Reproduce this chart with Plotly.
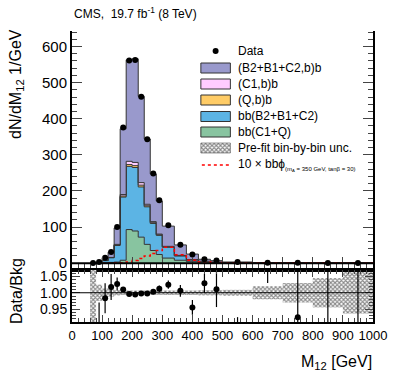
import numpy as np
import plotly.graph_objects as go

# bin edges of the M12 histogram (GeV)
edges = [60, 80, 100, 120, 140, 160, 180, 200, 220, 240, 260, 280, 300,
         340, 380, 420, 460, 500, 600, 700, 800, 900, 1000]

# background components, dN/dM12 per bin
bb_c1q   = [0, 0.3, 1, 2, 3, 8, 93, 89, 72, 52, 35, 24, 14, 8, 4, 2.5, 1.5, 0.6, 0.2, 0.1, 0.05, 0.03]
bb_b2b1c2 = [0.2, 1.2, 6, 13, 46, 175, 175, 176, 139, 104, 75, 53, 30, 12, 5, 2.5, 1.5, 0.6, 0.3, 0.2, 0.1, 0.07]
qb_b     = [0, 0, 0.2, 0.3, 1, 3, 5, 5, 5, 3, 2, 1.5, 1, 0.5, 0.3, 0.2, 0.1, 0.05, 0, 0, 0, 0]
c1b_b    = [0, 0, 0.3, 0.5, 2, 4, 9, 9, 7, 4, 3, 2, 1.5, 1, 0.5, 0.3, 0.2, 0.1, 0.05, 0, 0, 0]
b2b1c2b_b = [0.3, 1.5, 7.8, 14.7, 45.5, 182, 281, 287, 239, 181, 132, 91.5, 56, 29, 15.3, 5.2, 3.6, 1.85, 0.55, 0.56, 0.3, 0.4]

# 10 x signal
signal = [0, 0, 0, 0, 0.3, 1, 3, 7, 13, 20, 27, 35, 44, 23, 8, 3, 1.5, 0.5, 0.2, 0.1, 0.05, 0.03]

# data
data_y = [0.5, 3, 15, 31, 100, 376, 561, 563, 461, 343, 248, 174, 105, 51, 24, 11, 7, 3, 1.2, 0.8, 0.5, 0.4]

# ratio panel
ratio     = [0.5, 0.85, 0.983, 1.018, 1.027, 1.010, 0.996, 0.995, 0.998, 0.998, 1.003, 1.012,
             1.025, 1.006, 0.955, 1.029, 1.011, 0.80, 1.15, 0.925, 1.20, 0.75]
ratio_err = [0.2, 0.12, 0.046, 0.04, 0.02, 0.008, 0.004, 0.004, 0.004, 0.005, 0.006, 0.01,
             0.013, 0.018, 0.023, 0.03, 0.055, 0.125, 0.12, 0.2, 0.4, 0.4]
bkg_unc   = [0.6, 0.025, 0.013, 0.012, 0.008, 0.007, 0.007, 0.007, 0.007, 0.007, 0.007, 0.007,
             0.007, 0.007, 0.007, 0.008, 0.008, 0.009, 0.02, 0.03, 0.045, 0.064]

edges_a = np.array(edges, dtype=float)
centers = (edges_a[:-1] + edges_a[1:]) / 2
widths = np.diff(edges_a)

FONT = "Liberation Sans"
W, H = 399, 379
L, R, T, B = 72, 21, 31, 57
PW, PH = W - L - R, H - T - B
split = (H - B - 270) / PH
HATCH = dict(shape="x", size=3, solidity=0.6, fgcolor="#111111", bgcolor="white")


def px(x):
    return (x - L) / PW


def py(y):
    return (H - B - y) / PH


def step(vals):
    return list(vals) + [vals[-1]]


fig = go.Figure()

layers = [
    (bb_c1q, "#88c4a0"),
    (bb_b2b1c2, "#5cb4e4"),
    (qb_b, "#ffcc66"),
    (c1b_b, "#ffccff"),
    (b2b1c2b_b, "#9999cc"),
]
cum = np.zeros(len(centers))
for i, (vals, col) in enumerate(layers):
    cum = cum + np.array(vals)
    fig.add_trace(go.Scatter(x=edges, y=step(cum), mode="lines", line_shape="hv",
                             line=dict(color="#333333", width=1), fillcolor=col,
                             fill="tozeroy" if i == 0 else "tonexty",
                             xaxis="x", yaxis="y", hoverinfo="skip"))

fig.add_trace(go.Scatter(x=edges, y=step(signal), mode="lines", line_shape="hv",
                         line=dict(color="red", width=1.5, dash="dot"), xaxis="x", yaxis="y"))

fig.add_trace(go.Scatter(x=centers, y=data_y, mode="markers",
                         marker=dict(color="black", size=6), xaxis="x", yaxis="y"))

# ratio panel
unc = np.array(bkg_unc)
fig.add_trace(go.Bar(x=centers, y=2 * unc, base=1 - unc, width=widths,
                     marker=dict(color="rgba(0,0,0,0)", line=dict(width=0), pattern=HATCH),
                     xaxis="x2", yaxis="y2"))
fig.add_shape(type="line", xref="x2", yref="y2", x0=0, x1=1000, y0=1, y1=1,
              line=dict(color="black", width=1))
fig.add_trace(go.Scatter(x=centers, y=ratio, mode="markers",
                         marker=dict(color="black", size=6),
                         error_y=dict(type="data", array=ratio_err, color="black",
                                      thickness=1.2, width=0),
                         xaxis="x2", yaxis="y2"))

fig.add_shape(type="line", xref="x", yref="y", x0=0, x1=1000, y0=0, y1=0,
              line=dict(color="black", width=2))

# legend, drawn on an overlay in pixel coordinates
leg_names = ["(B2+B1+C2,b)b", "(C1,b)b", "(Q,b)b", "bb(B2+B1+C2)", "bb(C1+Q)"]
leg_cols = ["#9999cc", "#ffccff", "#ffcc66", "#5cb4e4", "#88c4a0"]
leg_rows = [68, 84, 100, 116.5, 132, 148, 165]
for name, col, yc in zip(leg_names, leg_cols, leg_rows):
    fig.add_trace(go.Scatter(x=[203, 233, 233, 203, 203], y=[yc - 5, yc - 5, yc + 5, yc + 5, yc - 5],
                             mode="lines", fill="toself", fillcolor=col,
                             line=dict(color="#333333", width=1), xaxis="x4", yaxis="y4"))
yc = leg_rows[5]
fig.add_trace(go.Scatter(x=[203, 233, 233, 203, 203], y=[yc - 5, yc - 5, yc + 5, yc + 5, yc - 5],
                         mode="lines", fill="toself", fillcolor="white", fillpattern=HATCH,
                         line=dict(color="#333333", width=0.5), xaxis="x4", yaxis="y4"))
fig.add_trace(go.Scatter(x=[204, 232], y=[leg_rows[6]] * 2, mode="lines",
                         line=dict(color="red", width=1.5, dash="dot"), xaxis="x4", yaxis="y4"))
fig.add_trace(go.Scatter(x=[218], y=[51], mode="markers", marker=dict(color="black", size=6),
                         xaxis="x4", yaxis="y4"))

ann = []
leg_text = ["Data"] + leg_names + [
    "Pre-fit bin-by-bin unc.",
    "10 × bbϕ<sub><span style='font-size:6px'>(m<sub>A</sub> = 350 GeV, tanβ = 30)</span></sub>"]
for txt, yc in zip(leg_text, [51] + leg_rows):
    ann.append(dict(x=px(239), y=py(yc), xref="paper", yref="paper", text=txt,
                    xanchor="left", yanchor="middle", showarrow=False, font=dict(size=12)))

ann += [
    dict(x=px(72), y=py(13), text="CMS,&nbsp; 19.7 fb<sup>-1</sup> (8 TeV)",
         xanchor="left", yanchor="middle", font=dict(size=12)),
    dict(x=px(15), y=py(84), text="dN/dM<sub>12</sub> 1/GeV", textangle=-90,
         xanchor="center", yanchor="middle", font=dict(size=16)),
    dict(x=px(15), y=py(291), text="Data/Bkg", textangle=-90,
         xanchor="center", yanchor="middle", font=dict(size=16)),
    dict(x=px(379), y=py(362), text="M<sub>12</sub> [GeV]",
         xanchor="right", yanchor="middle", font=dict(size=16)),
]
for a in ann[-4:]:
    a.update(xref="paper", yref="paper", showarrow=False)

axline = dict(showline=True, linecolor="black", linewidth=2, showgrid=False, zeroline=False)

fig.update_layout(
    width=W, height=H, margin=dict(l=L, r=R, t=T, b=B),
    paper_bgcolor="white", plot_bgcolor="rgba(0,0,0,0)", showlegend=False,
    font=dict(family=FONT, color="black"),
    annotations=ann,
    xaxis=dict(domain=[0, 1], anchor="y", range=[0, 1000], dtick=100, tick0=0,
               showticklabels=False, ticks="inside", ticklen=13, tickwidth=1,
               minor=dict(ticks="inside", ticklen=7, dtick=20, tickwidth=1), **axline),
    xaxis3=dict(overlaying="x", anchor="y", side="top", range=[0, 1000], dtick=100, tick0=0,
                showticklabels=False, ticks="inside", ticklen=7, tickwidth=1,
                minor=dict(ticks="inside", ticklen=3.5, dtick=20, tickwidth=1), **axline),
    yaxis=dict(domain=[split, 1], anchor="x", range=[-19, 643], dtick=100, tick0=0,
               ticks="inside", ticklen=10, tickwidth=1, mirror="ticks", tickfont=dict(size=15),
               minor=dict(ticks="inside", ticklen=5, dtick=20, tickwidth=1), **axline),
    xaxis2=dict(domain=[0, 1], anchor="y2", range=[0, 1000], dtick=100, tick0=0,
                ticks="inside", ticklen=7, tickwidth=1, mirror="ticks", tickfont=dict(size=13),
                minor=dict(ticks="inside", ticklen=4, dtick=20, tickwidth=1), **axline),
    yaxis2=dict(domain=[0, split], anchor="x2", range=[0.91, 1.07],
                tickvals=[0.95, 1.0, 1.05], ticktext=["0.95", "1.00", "1.05"],
                ticks="inside", ticklen=8, tickwidth=1, mirror="ticks", tickfont=dict(size=14),
                minor=dict(ticks="inside", ticklen=4, tick0=0.9, dtick=0.01, tickwidth=1), **axline),
    xaxis4=dict(domain=[0, 1], anchor="y4", range=[L, W - R], visible=False),
    yaxis4=dict(domain=[0, 1], anchor="x4", range=[H - B, T], visible=False),
)

# drop the browser's default page margin so the figure sits at the top-left corner
fig.write_html("out.html", config={"displayModeBar": False},
               post_script="document.body.style.margin='0px';")
